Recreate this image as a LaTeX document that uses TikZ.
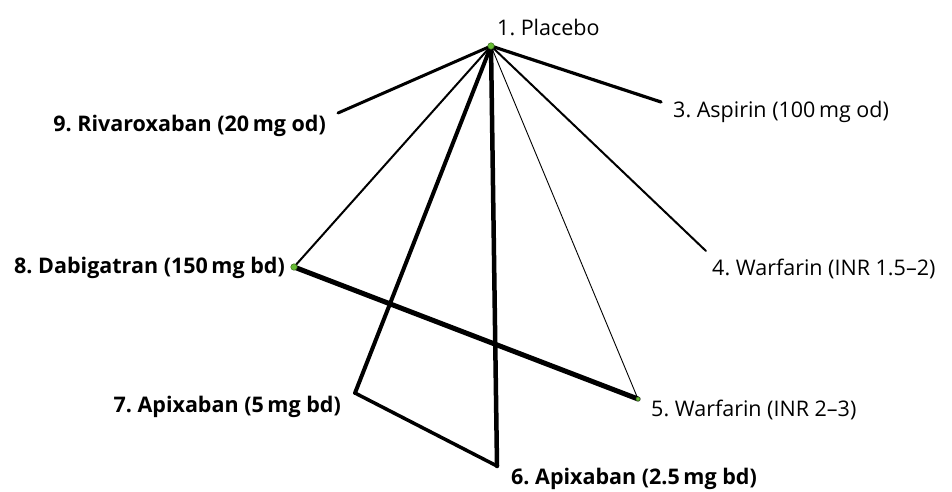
\documentclass[tikz,border=0pt]{standalone}
\usepackage{fontspec}
\setmainfont{Open Sans}
\frenchspacing
\definecolor{dotgreen}{RGB}{102,187,51}
\definecolor{dotedge}{RGB}{60,110,30}
\begin{document}
\begin{tikzpicture}[x=1pt,y=-1pt,
  lbl/.style={inner sep=0pt,font=\fontsize{21.5}{24}\selectfont},
  blbl/.style={inner sep=0pt,font=\fontsize{21.5}{24}\selectfont\bfseries},
  edge/.style={line cap=round,draw=black},
  dot/.style={circle,fill=dotgreen,draw=dotedge,line width=0.5pt,inner sep=0pt,minimum size=6.5pt}]
\useasboundingbox (0,0) rectangle (952,491);
\coordinate (n1) at (491,46);
\coordinate (n3) at (661,102);
\coordinate (n4) at (706,251);
\coordinate (n5) at (638,399);
\coordinate (n6) at (497,466);
\coordinate (n7) at (355,393);
\coordinate (n8) at (294,267);
\coordinate (n9) at (338,113);
\draw[edge,line width=3.2pt] (n1) -- (n3);
\draw[edge,line width=3pt] (n1) -- (n9);
\draw[edge,line width=2pt] (n1) -- (n8);
\draw[edge,line width=2pt] (n1) -- (n4);
\draw[edge,line width=0.9pt] (n1) -- (n5);
\draw[edge,line width=4pt] (n1) -- (n7);
\draw[edge,line width=4.5pt] (n1) -- (n6);
\draw[edge,line width=3.5pt] (n7) -- (n6);
\draw[edge,line width=5pt] (n8) -- (n5);
\node[dot] (d1) at (n1) {};
\node[dot] (d8) at (n8) {};
\node[dot,minimum size=4pt] (d5) at (n5) {};
\node[lbl,anchor=west] (t1) at (497,27) {1. Placebo};
\node[lbl,anchor=west] (t3) at (673,112) {3. Aspirin (100\,mg od)};
\node[lbl,anchor=west] (t4) at (712,269) {4. Warfarin (INR 1.5–2)};
\node[lbl,anchor=west] (t5) at (651,410) {5. Warfarin (INR 2–3)};
\node[blbl,anchor=west] (t6) at (511,479) {6. Apixaban (2.5\,mg bd)};
\node[blbl,anchor=east] (t7) at (341,407) {7. Apixaban (5\,mg bd)};
\node[blbl,anchor=east] (t8) at (285,268) {8. Dabigatran (150\,mg bd)};
\node[blbl,anchor=east] (t9) at (326,126) {9. Rivaroxaban (20\,mg od)};
\end{tikzpicture}
\end{document}
